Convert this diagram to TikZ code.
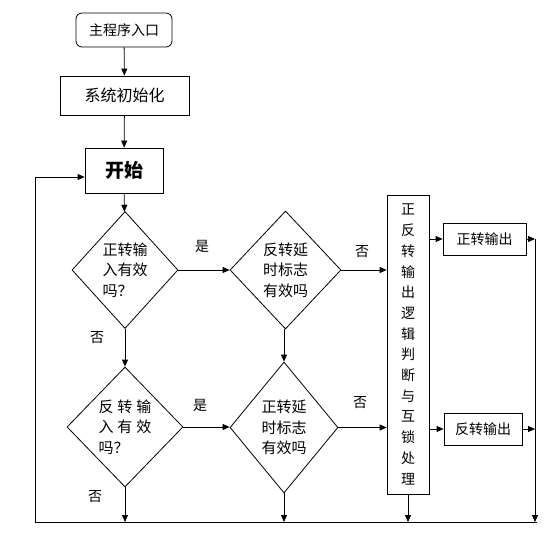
\documentclass[tikz,border=0pt]{standalone}
\usepackage{fontspec}
\setmainfont{Noto Sans CJK SC}
\usetikzlibrary{shapes.geometric,arrows.meta,calc}
\tikzset{
  base/.style={draw,line width=0.8pt,inner sep=0pt,font=\fontsize{14}{20}\selectfont},
  procbox/.style={base,rectangle},
  decbox/.style={base,diamond,align=left,font=\fontsize{15}{20.5}\selectfont},
  arr/.style={line width=0.8pt,-{Triangle[length=7pt,width=6pt]}},
  ln/.style={line width=0.8pt},
  lbl/.style={font=\fontsize{14}{16}\selectfont,inner sep=0pt}
}
\begin{document}
\begin{tikzpicture}[x=1pt,y=-1pt]
\useasboundingbox (0,0) rectangle (554,538);
% nodes
\node[procbox,rounded corners=6pt,minimum width=96pt,minimum height=34pt] (entry) at (124,30) {主程序入口};
\node[procbox,minimum width=129pt,minimum height=39pt,font=\fontsize{16}{20}\selectfont] (init) at (124.5,95.5) {系统初始化};
\node[procbox,minimum width=78pt,minimum height=45pt,font=\fontsize{19}{20}\selectfont\bfseries] (start) at (124,170.5) {开始};
\node[decbox,minimum width=106pt,minimum height=117pt] (d1) at (125,270) {正转输\\入有效\\吗？};
\node[decbox,minimum width=111pt,minimum height=118pt] (d2) at (285.5,270) {反转延\\时标志\\有效吗};
\node[decbox,minimum width=116pt,minimum height=120pt] (d3) at (125,427) {反\hspace{4pt}转\hspace{4pt}输\\入\hspace{4pt}有\hspace{4pt}效\\吗？};
\node[decbox,minimum width=108pt,minimum height=131pt] (d4) at (284,427.5) {正转延\\时标志\\有效吗};
\node[procbox,minimum width=42pt,minimum height=299pt,align=center,font=\fontsize{14}{20.7}\selectfont] (logic) at (408,344.5) {正\\反\\转\\输\\出\\逻\\辑\\判\\断\\与\\互\\锁\\处\\理};
\node[procbox,minimum width=83pt,minimum height=32pt] (fwd) at (484.5,239) {正转输出};
\node[procbox,minimum width=78pt,minimum height=32pt] (rev) at (483,429) {反转输出};
% coordinates
\coordinate (BL) at (35,522);
\coordinate (BR) at (537,522);
\coordinate (RV) at (535,239);
\coordinate (LT) at (35,177);
% labels
\node[lbl] (y1) at (202,246) {是};
\node[lbl] (n1) at (362,252) {否};
\node[lbl] (n2) at (97,338) {否};
\node[lbl] (y2) at (200,405) {是};
\node[lbl] (n3) at (360,403) {否};
\node[lbl] (n4) at (95,497) {否};
% connectors
\draw[arr] (entry) -- (init);
\draw[arr] (init) -- (start);
\draw[arr] (start) -- (d1);
\draw[arr] (d1.east) -- (d2.west);
\draw[arr] (d2.east) -- (d2.east -| logic.west);
\draw[arr] (d1.south) -- (d3.north);
\draw[arr] (d2.south -| d4.north) -- (d4.north);
\draw[arr] (d3.east) -- (d3.east -| d4.west);
\draw[arr] (d4.east) -- (d4.east -| logic.west);
\draw[arr] (fwd.west -| logic.east) -- (fwd.west);
\draw[arr] (rev.west -| logic.east) -- (rev.west);
\draw[arr] (fwd.east) -- (fwd.east -| RV);
\draw[arr] (rev.east) -- (rev.east -| RV);
\draw[arr] (RV) -- (RV |- BL);
\draw[arr] (d3.south) -- (d3.south |- BL);
\draw[arr] (d4.south) -- (d4.south |- BL);
\draw[arr] (logic.south) -- (logic.south |- BL);
\draw[ln] (BR) -- (BL) -- (LT);
\draw[arr] (LT) -- (LT -| start.west);
\end{tikzpicture}
\end{document}
